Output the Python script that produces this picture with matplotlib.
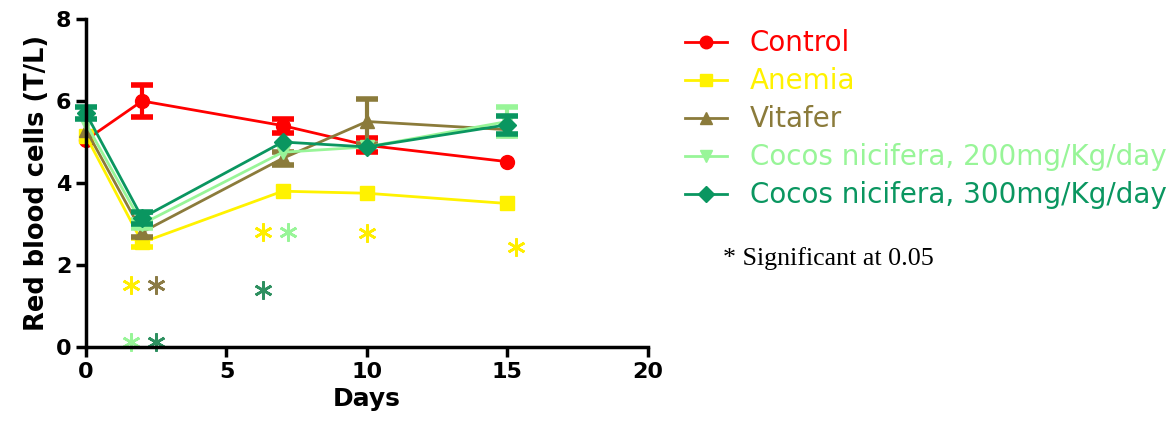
import matplotlib.pyplot as plt
from matplotlib.lines import Line2D

plt.rcParams['font.family'] = ['DejaVu Sans']

days = [0, 2, 7, 10, 15]
groups = ["Control", "Anemia", "Vitafer",
          "Cocos nicifera, 200mg/Kg/day", "Cocos nicifera, 300mg/Kg/day"]
control = [5.05, 6.0, 5.4, 4.92, 4.52]
control_err = [0, 0.38, 0.17, 0.17, 0]
anemia = [5.15, 2.55, 3.8, 3.75, 3.5]
anemia_err = [0, 0.1, 0, 0, 0]
vitafer = [5.3, 2.8, 4.6, 5.5, 5.3]
vitafer_err = [0, 0.12, 0.15, 0.55, 0]
cocos200 = [5.45, 3.0, 4.75, 4.88, 5.5]
cocos200_err = [0, 0.1, 0, 0, 0.35]
cocos300 = [5.7, 3.15, 5.0, 4.88, 5.42]
cocos300_err = [0.15, 0.15, 0, 0, 0.22]

# significance stars
star_x = [1.6, 2.5, 1.6, 2.5, 6.3, 7.2, 10.0, 15.3, 6.3]
star_y = [1.52, 1.52, 0.12, 0.12, 2.8, 2.8, 2.78, 2.45, 1.4]
star_col = ["#FFEE00", "#8B7B45", "#98F598", "#2E9060",
            "#FFEE00", "#98F598", "#FFEE00", "#FFEE00", "#2E9060"]

colors = ["#FF0000", "#FFF200", "#8B7B3B", "#98F598", "#0A9660"]
markers = ["o", "s", "^", "v", "D"]
sizes = [10, 10, 10, 10, 9]
values = [control, anemia, vitafer, cocos200, cocos300]
errors = [control_err, anemia_err, vitafer_err, cocos200_err, cocos300_err]

fig = plt.figure(figsize=(11.71, 4.24), dpi=100)
ax = fig.add_axes([0.0734, 0.1816, 0.4799, 0.7736])

for v, e, c, m, s in zip(values, errors, colors, markers, sizes):
    ax.plot(days, v, color=c, marker=m, markersize=s, lw=2, clip_on=False)
    idx = [i for i in range(len(days)) if e[i] > 0]
    ax.errorbar([days[i] for i in idx], [v[i] for i in idx],
                yerr=[e[i] for i in idx], fmt='none', ecolor=c,
                elinewidth=3, capsize=8, capthick=4, clip_on=False)

for x, y, c in zip(star_x, star_y, star_col):
    ax.plot(x, y, marker=(6, 2, 0), markersize=13, mew=1.9, mec=c,
            clip_on=False)

ax.set_xlim(0, 20)
ax.set_ylim(0, 8)
ax.set_xticks([0, 5, 10, 15, 20])
ax.set_yticks([0, 2, 4, 6, 8])
ax.spines['top'].set_visible(False)
ax.spines['right'].set_visible(False)
ax.spines['left'].set_linewidth(2.5)
ax.spines['bottom'].set_linewidth(2.5)
ax.tick_params(width=2.5, length=7, labelsize=16)
for lab in ax.get_xticklabels() + ax.get_yticklabels():
    lab.set_fontweight('bold')
ax.set_xlabel("Days", fontsize=18, fontweight='bold', labelpad=4)
ax.set_ylabel("Red blood cells (T/L)", fontsize=18.5, fontweight='bold',
              labelpad=4)

handles = [Line2D([0], [0], color=c, marker=m, markersize=s * 0.9, lw=2)
           for c, m, s in zip(colors, markers, sizes)]
fig.legend(handles, groups, loc="upper left", bbox_to_anchor=(0.5636, 0.99),
           frameon=False, fontsize=20, labelcolor=colors, handlelength=1.5,
           labelspacing=0.36, handletextpad=0.83)

fig.text(0.617, 0.39, "* Significant at 0.05", fontsize=18.7,
         family=['Liberation Serif', 'DejaVu Serif'], va="center")

fig.savefig("out.png", dpi=100)
